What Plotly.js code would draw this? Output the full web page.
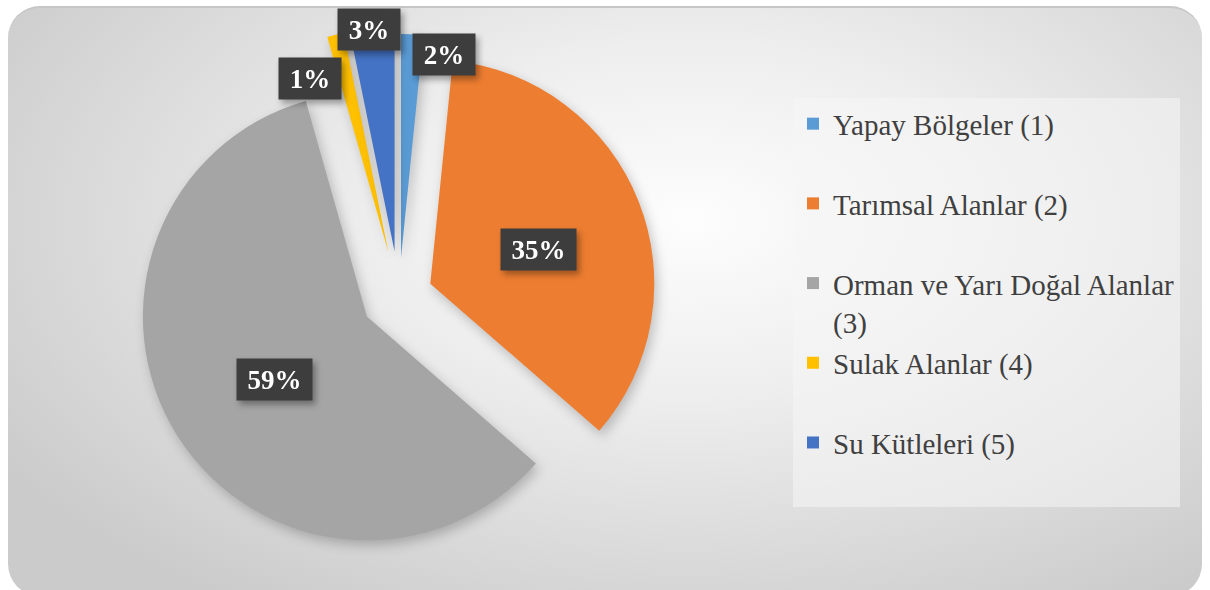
<!DOCTYPE html>
<html>
<head>
<meta charset="utf-8">
<script src="https://cdn.plot.ly/plotly-3.0.1.min.js"></script>
<style>
  html, body { margin: 0; padding: 0; background: #ffffff; }
  #frame {
    position: absolute; left: 8px; top: 6px; width: 1194px; height: 590px;
    border-radius: 32px; box-sizing: border-box;
    border-top: 2px solid #c6c6c6;
    background: radial-gradient(ellipse 68% 78% at 57% 36%, #fdfdfd 0%, #eeeeee 38%, #dcdcdc 70%, #cbcbcb 100%);
  }
  #chart { position: absolute; left: 0; top: 0; width: 1210px; height: 590px; }
  .pielayer g.slice { filter: drop-shadow(3px 5px 6px rgba(0,0,0,0.22)); }
  .annotation-text-g { filter: drop-shadow(3px 4px 3px rgba(0,0,0,0.35)); }
</style>
</head>
<body>
<div id="frame"></div>
<div id="chart"></div>
<script>
// ---- data ----
const categories = ['Yapay Bölgeler (1)', 'Tarımsal Alanlar (2)', 'Orman ve Yarı Doğal Alanlar (3)', 'Sulak Alanlar (4)', 'Su Kütleleri (5)'];
const shares = [1.6, 34.8, 59.2, 1.2, 3.2];

// ---- style ----
const colors = ['#5B9BD5', '#ED7D31', '#A5A5A5', '#FFC000', '#4472C4'];
const pulls = [0.17, 0.15, 0.17, 0.2, 0.2];
// label placement: radial factor (of radius, from the pulled slice apex) and pixel nudges
const labelRadial = [1.0, 0.5, 0.5, 1.0, 1.02];
const labelNudge = [[32, 20], [4, 7], [2, 3], [-25, 44], [-3, 5]];

// legend entries: long names wrap onto a second line, short ones get an empty second line
function legendText(s) {
  const open = '<span style="font-size:29px">';
  if (s.length > 24) {
    const k = s.lastIndexOf(' ');
    return open + s.slice(0, k) + '</span><br>' + open + s.slice(k + 1) + '</span>';
  }
  return open + s + '</span><br> ';
}

const W = 1210, H = 590;
const SERIF = 'Liberation Serif';
const trace = {
  type: 'pie',
  labels: categories.map(legendText),
  values: shares,
  sort: false,
  direction: 'clockwise',
  rotation: 0,
  pull: pulls,
  marker: { colors: colors, line: { width: 0 } },
  textinfo: 'none',
  hoverinfo: 'label+percent',
  domain: { x: [0.0948, 0.5648], y: [0.0427, 0.9539] }
};

const layout = {
  width: W, height: H,
  margin: { l: 0, r: 0, t: 0, b: 0 },
  paper_bgcolor: 'rgba(0,0,0,0)',
  plot_bgcolor: 'rgba(0,0,0,0)',
  font: { family: SERIF, color: '#404040' },
  showlegend: true,
  legend: {
    x: 793 / W, y: 1 - 98 / H, xanchor: 'left', yanchor: 'top',
    bgcolor: 'rgba(246,246,246,0.55)', borderwidth: 0,
    font: { family: SERIF, size: 29.5, color: '#404040' },
    valign: 'top', traceorder: 'normal'
  }
};

const gd = document.getElementById('chart');
Plotly.newPlot(gd, [trace], layout, { displayModeBar: false, staticPlot: true }).then(() => {
  let cx = 399, cy = 296, r = 224;
  try {
    const cd0 = gd.calcdata[0][0];
    if (cd0 && isFinite(cd0.r)) { cx = cd0.cx; cy = cd0.cy; r = cd0.r; }
  } catch (e) {}
  const total = shares.reduce((a, b) => a + b, 0);
  let acc = 0;
  const anns = shares.map((v, i) => {
    const mid = (acc + v / 2) / total * 2 * Math.PI;
    acc += v;
    const ux = Math.sin(mid), uy = -Math.cos(mid);
    const ax = cx + pulls[i] * r * ux, ay = cy + pulls[i] * r * uy;
    const px = ax + labelRadial[i] * r * ux + labelNudge[i][0];
    const py = ay + labelRadial[i] * r * uy + labelNudge[i][1];
    const txt = Math.round(v / total * 100) + '%';
    return {
      xref: 'paper', yref: 'paper', x: px / W, y: 1 - py / H,
      xanchor: 'center', yanchor: 'middle', showarrow: false,
      text: '<b>' + txt + '</b>',
      font: { family: SERIF, size: 27, color: '#ffffff' },
      bgcolor: '#3d3d3d', borderpad: 0,
      width: 36 + 13 * txt.length, height: 41, valign: 'middle', align: 'center'
    };
  });
  return Plotly.relayout(gd, { annotations: anns });
});
</script>
</body>
</html>
